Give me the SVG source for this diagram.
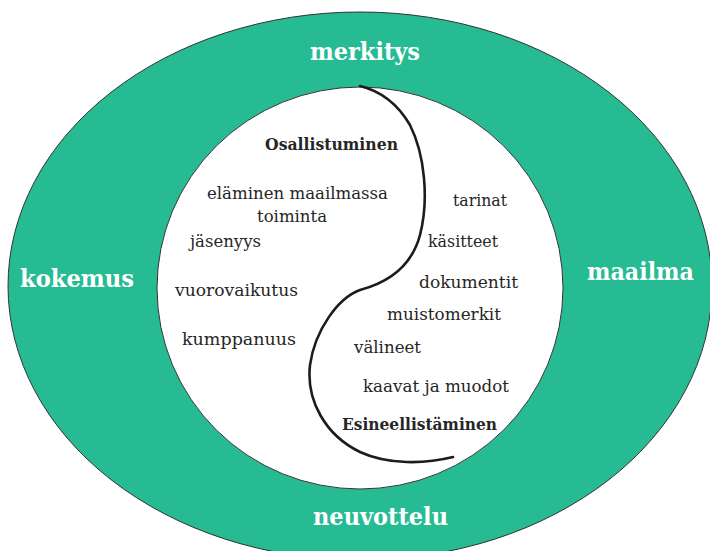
<svg xmlns="http://www.w3.org/2000/svg" width="710" height="551" viewBox="0 0 710 551">
  <style>
    .ring { fill: #26BB93; stroke: #333; stroke-width: 1; }
    .core { fill: #ffffff; stroke: #333; stroke-width: 1; }
    .divide { fill: none; stroke: #1c1c1c; stroke-width: 2.6; stroke-linecap: round; stroke-linejoin: round; }
    .outer { font-family: "DejaVu Serif", "Liberation Serif", serif; font-weight: bold; font-size: 25px; fill: #ffffff; }
    .item { font-family: "DejaVu Serif", "Liberation Serif", serif; font-size: 17px; fill: #262626; }
    .head { font-family: "DejaVu Serif", "Liberation Serif", serif; font-weight: bold; font-size: 16px; fill: #262626; }
  </style>

  <rect width="710" height="551" fill="#ffffff"/>

  <!-- outer ring: meaning / experience / world / negotiation -->
  <g id="ring">
    <ellipse class="ring" cx="360" cy="286" rx="352" ry="274"/>
    <ellipse class="core" cx="360" cy="288" rx="203" ry="201"/>
  </g>

  <!-- dividing S-curve between participation and reification -->
  <g id="connectors">
    <path class="divide" d="M360,86 C385,92 400,108 410,125 C425,155 429,200 420,235 C412,265 390,282 360,290 C338,298 315,330 310,365 C306,400 325,435 360,452 C388,465 425,464 453,457"/>
  </g>

  <g id="outer-labels">
    <text class="outer" x="310" y="60" textLength="110" lengthAdjust="spacingAndGlyphs">merkitys</text>
    <text class="outer" x="20" y="287" textLength="114" lengthAdjust="spacingAndGlyphs">kokemus</text>
    <text class="outer" x="587" y="280" textLength="107" lengthAdjust="spacingAndGlyphs">maailma</text>
    <text class="outer" x="313" y="525" textLength="135" lengthAdjust="spacingAndGlyphs">neuvottelu</text>
  </g>

  <g id="participation">
    <text class="head" x="265" y="150" textLength="133" lengthAdjust="spacingAndGlyphs">Osallistuminen</text>
    <text class="item" x="207" y="199" textLength="181" lengthAdjust="spacingAndGlyphs">eläminen maailmassa</text>
    <text class="item" x="257" y="222" textLength="70" lengthAdjust="spacingAndGlyphs">toiminta</text>
    <text class="item" x="190" y="247" textLength="71" lengthAdjust="spacingAndGlyphs">jäsenyys</text>
    <text class="item" x="175" y="296" textLength="123" lengthAdjust="spacingAndGlyphs">vuorovaikutus</text>
    <text class="item" x="182" y="345" textLength="114" lengthAdjust="spacingAndGlyphs">kumppanuus</text>
  </g>

  <g id="reification">
    <text class="item" x="453" y="206" textLength="54" lengthAdjust="spacingAndGlyphs">tarinat</text>
    <text class="item" x="428" y="247" textLength="70" lengthAdjust="spacingAndGlyphs">käsitteet</text>
    <text class="item" x="419" y="288" textLength="99" lengthAdjust="spacingAndGlyphs">dokumentit</text>
    <text class="item" x="387" y="320" textLength="114" lengthAdjust="spacingAndGlyphs">muistomerkit</text>
    <text class="item" x="354" y="353" textLength="67" lengthAdjust="spacingAndGlyphs">välineet</text>
    <text class="item" x="363" y="392" textLength="146" lengthAdjust="spacingAndGlyphs">kaavat ja muodot</text>
    <text class="head" x="342" y="430" textLength="155" lengthAdjust="spacingAndGlyphs">Esineellistäminen</text>
  </g>
</svg>
